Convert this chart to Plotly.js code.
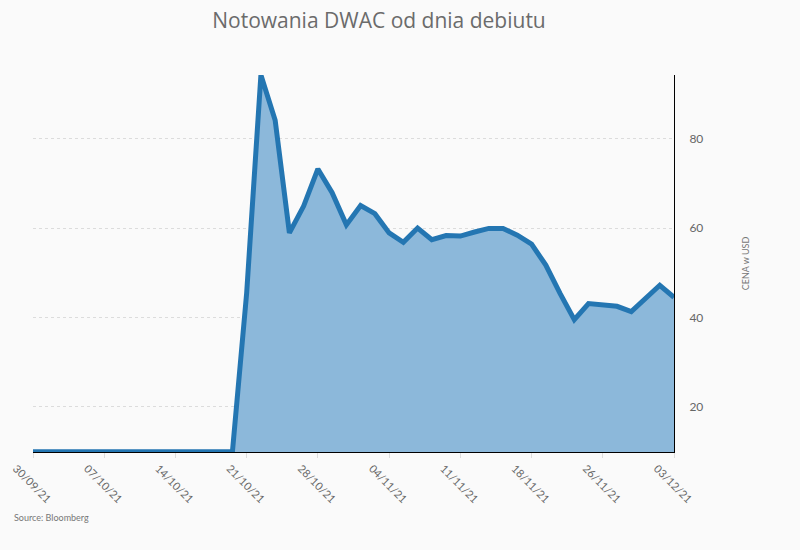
<!DOCTYPE html>
<html>
<head>
<meta charset="utf-8">
<script src="https://cdn.plot.ly/plotly-3.0.1.min.js"></script>
<style>
html,body{margin:0;padding:0;background:#fafafa;}
#chart{width:800px;height:550px;}
</style>
</head>
<body>
<div id="chart"></div>
<script>
// Trading days (category axis)
const dates = [
  "30/09/21","01/10/21","04/10/21","05/10/21","06/10/21","07/10/21","08/10/21",
  "11/10/21","12/10/21","13/10/21","14/10/21","15/10/21","18/10/21","19/10/21","20/10/21",
  "21/10/21","22/10/21","25/10/21","26/10/21","27/10/21","28/10/21","29/10/21",
  "01/11/21","02/11/21","03/11/21","04/11/21","05/11/21","08/11/21","09/11/21","10/11/21",
  "11/11/21","12/11/21","15/11/21","16/11/21","17/11/21","18/11/21","19/11/21",
  "22/11/21","23/11/21","24/11/21","26/11/21","29/11/21","30/11/21","01/12/21","02/12/21","03/12/21"
];
// Closing price, USD
const prices = [
  9.96, 9.96, 9.97, 9.97, 9.98, 9.98, 9.98,
  9.99, 9.99, 9.99, 9.99, 9.99, 10.0, 10.0, 10.0,
  45.5, 94.2, 84.1, 58.9, 64.9, 73.2, 67.9,
  60.7, 65.0, 63.2, 58.9, 56.8, 60.0, 57.4, 58.3,
  58.2, 59.1, 59.9, 59.9, 58.4, 56.4, 51.7,
  45.4, 39.5, 43.1, 42.9, 42.5, 41.3, 44.3, 47.2, 44.5
];
const tickLabels = ["30/09/21","07/10/21","14/10/21","21/10/21","28/10/21","04/11/21","11/11/21","18/11/21","26/11/21","03/12/21"];
const yTicks = [20, 40, 60, 80];

const fontTick = "Lato, 'Open Sans', sans-serif";

Plotly.newPlot('chart', [{
  x: dates,
  y: prices,
  type: 'scatter',
  mode: 'lines',
  fill: 'tozeroy',
  fillcolor: '#8cb8da',
  line: {color: '#2476b2', width: 5},
  hoverinfo: 'x+y'
}], {
  width: 800, height: 550,
  paper_bgcolor: '#fafafa',
  plot_bgcolor: '#fafafa',
  margin: {l: 33, r: 126, t: 75, b: 98},
  showlegend: false,
  title: {
    text: 'Notowania DWAC od dnia debiutu',
    font: {family: "'Open Sans', sans-serif", size: 21, color: '#6b6b6b'},
    xref: 'paper',
    x: (379 - 33) / 641, xanchor: 'center', y: 0.963, yanchor: 'middle'
  },
  xaxis: {
    type: 'category',
    categoryorder: 'array',
    categoryarray: dates,
    range: [0, dates.length - 1],
    tickmode: 'array',
    tickvals: tickLabels,
    ticktext: tickLabels,
    tickangle: 45,
    ticks: 'outside',
    ticklen: 5,
    tickcolor: '#dddddd',
    tickfont: {family: fontTick, size: 11, color: '#666666'},
    ticklabelshift: -17,
    ticklabelstandoff: 0,
    showgrid: false,
    showline: true,
    linecolor: '#000000',
    linewidth: 1,
    zeroline: false,
    fixedrange: true
  },
  yaxis: {
    side: 'right',
    range: [9.93, 94.2],
    tickmode: 'array',
    tickvals: yTicks,
    ticktext: yTicks.map(String),
    ticks: '',
    tickfont: {family: fontTick, size: 12, color: '#666666'},
    ticklabelstandoff: 12,
    showgrid: true,
    gridcolor: '#dcdcdc',
    griddash: 'dot',
    gridwidth: 1,
    showline: true,
    linecolor: '#000000',
    linewidth: 1,
    zeroline: false,
    title: {text: 'CENA w USD', font: {family: fontTick, size: 9, color: '#777777'}, standoff: 40},
    fixedrange: true
  },
  annotations: [{
    text: 'Source: Bloomberg',
    xref: 'paper', yref: 'paper',
    x: -33/641, y: -65/377,
    xanchor: 'left', yanchor: 'middle',
    xshift: 12,
    showarrow: false,
    font: {family: fontTick, size: 9, color: '#777777'}
  }]
}, {displayModeBar: false});
</script>
</body>
</html>
